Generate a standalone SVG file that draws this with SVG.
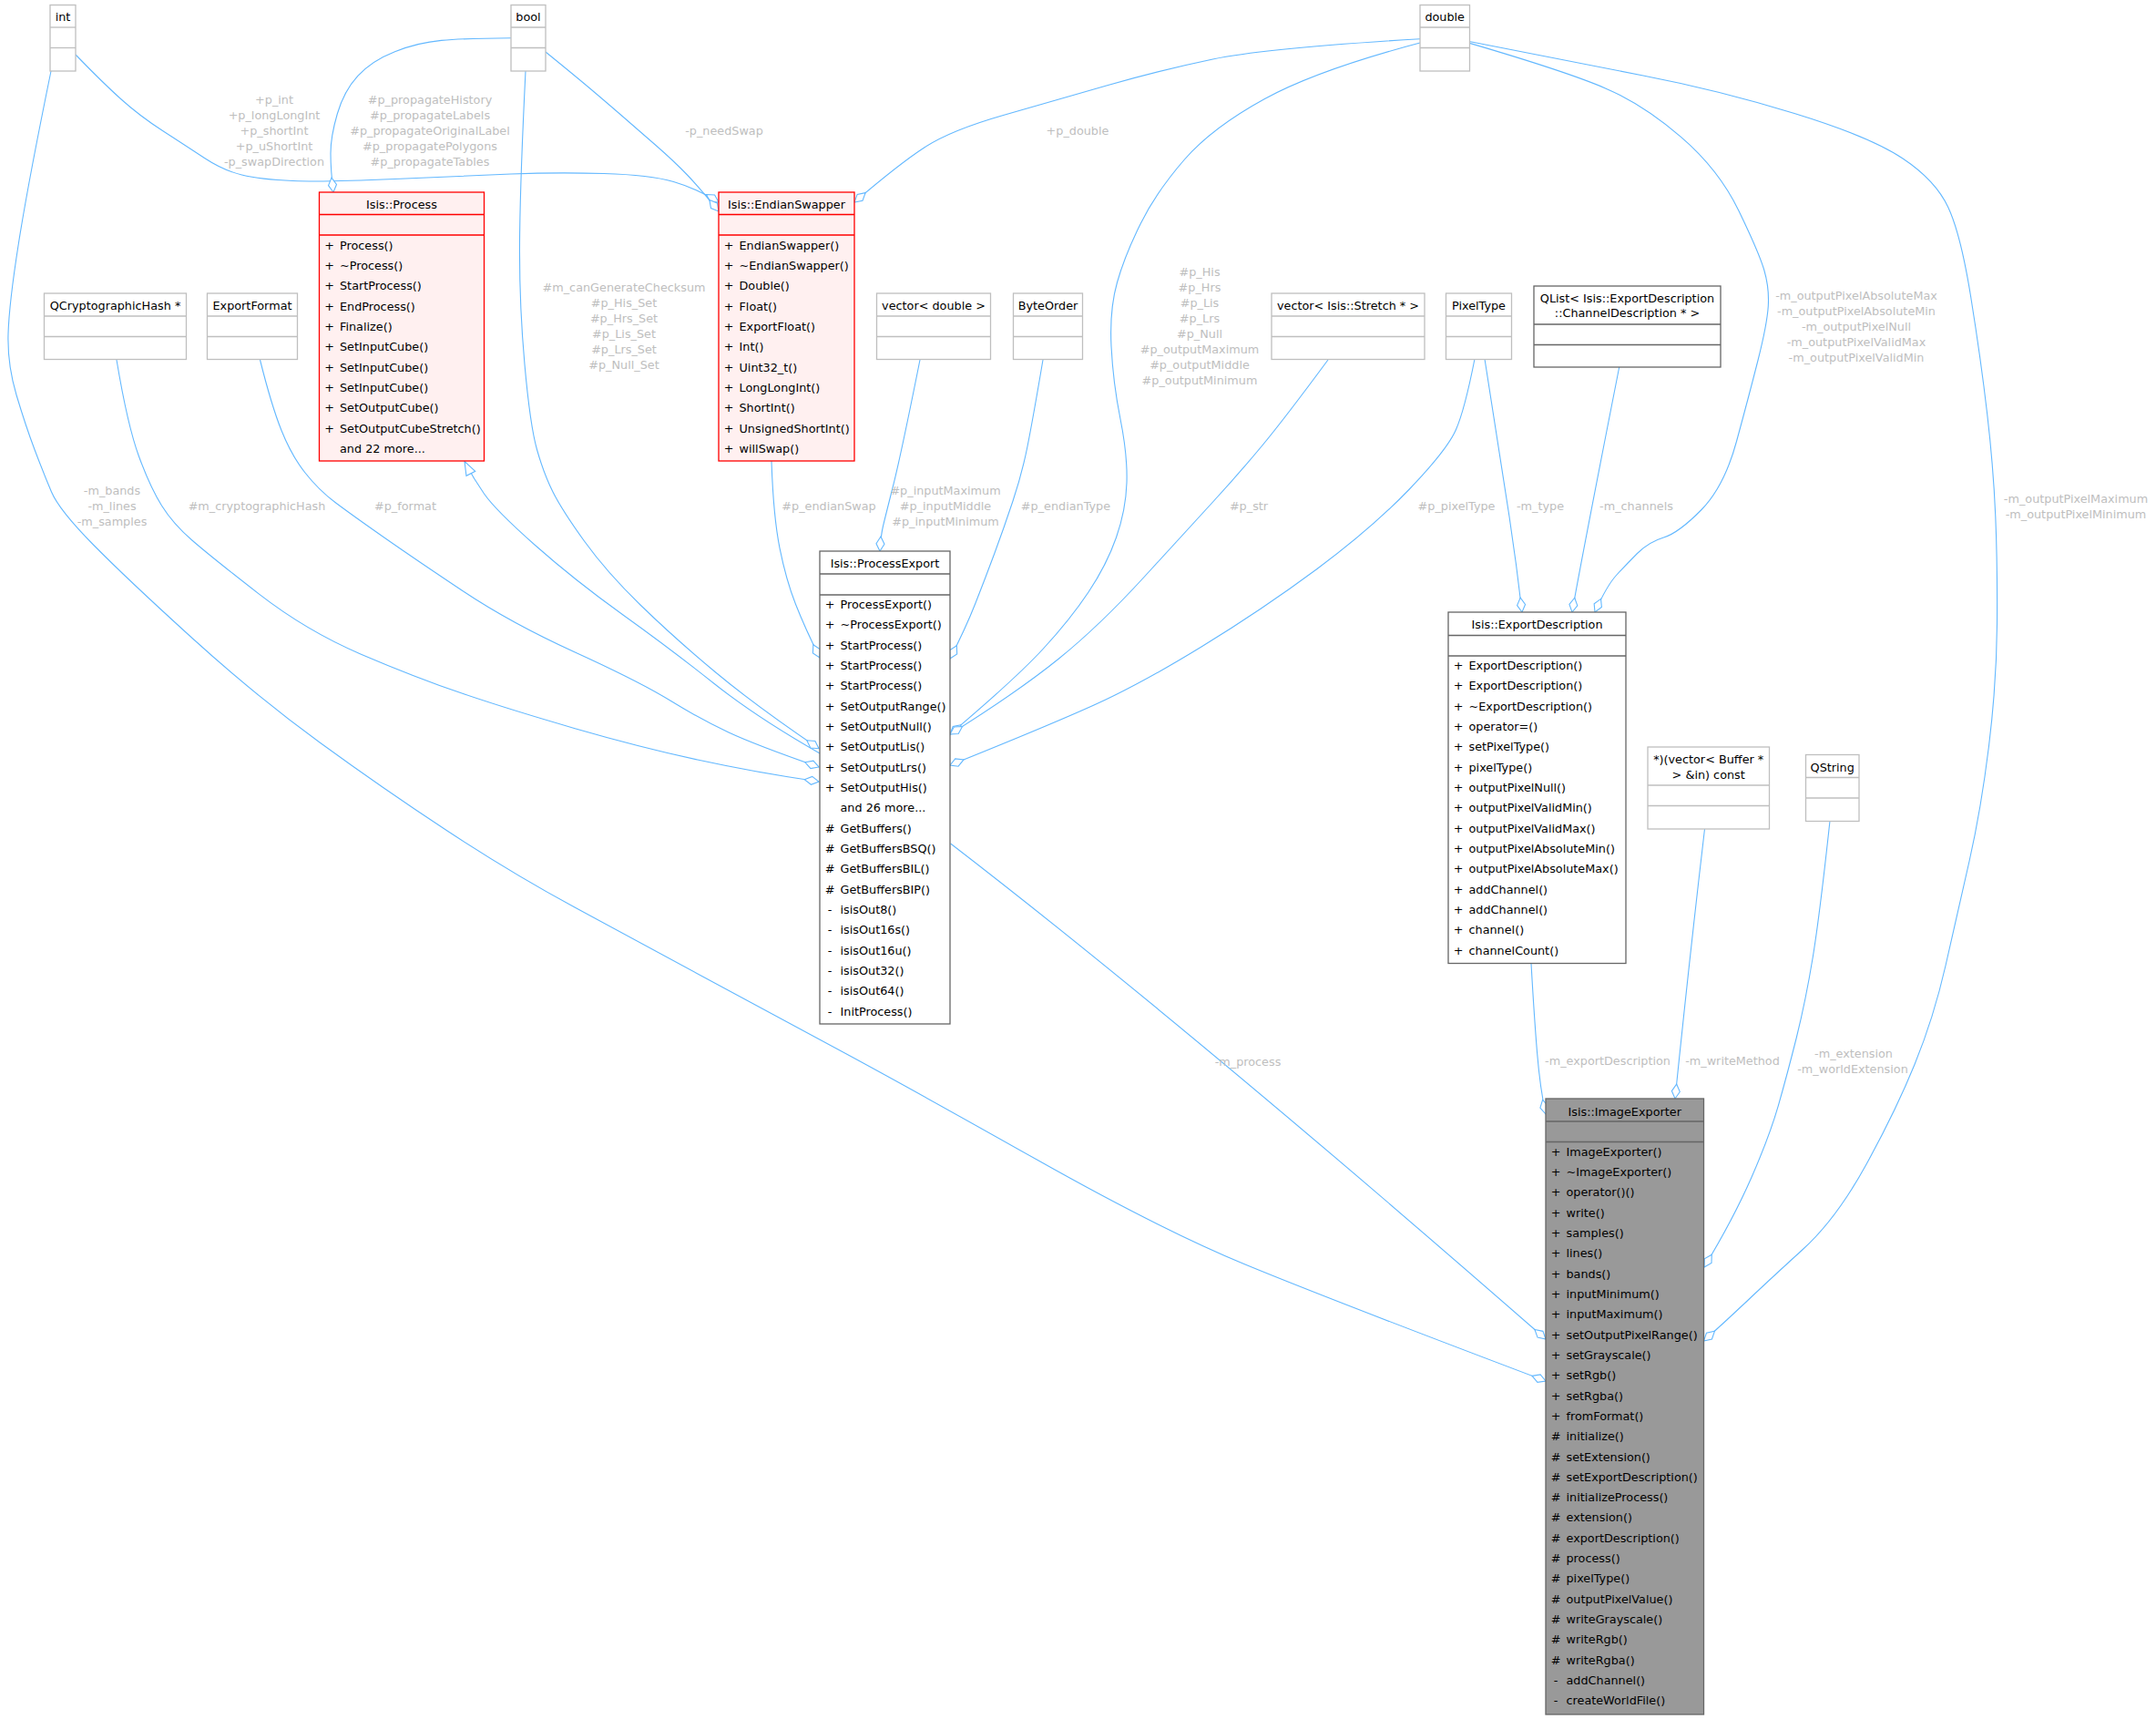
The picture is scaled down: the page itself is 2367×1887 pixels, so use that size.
<svg xmlns="http://www.w3.org/2000/svg" width="2367" height="1887" viewBox="0 0 2367 1887">
<style>
text { font-family: "DejaVu Sans", sans-serif; font-size: 12.8px; fill: #000; }
.c { text-anchor: middle; }
.s { text-anchor: middle; }
.lbl { fill: #bebebe; text-anchor: middle; }
.e { fill: none; stroke: #63b8ff; stroke-width: 1.1; }
.g { fill: #fff; stroke: #bfbfbf; stroke-width: 1.3; }
.gl { stroke: #bfbfbf; stroke-width: 1.3; }
.d { fill: #fff; stroke: #666; stroke-width: 1.3; }
.dl { stroke: #666; stroke-width: 1.3; }
.r { fill: #fff0f0; stroke: #ff0000; stroke-width: 1.3; }
.rl { stroke: #ff0000; stroke-width: 1.3; }
.i { fill: #999999; stroke: #666; stroke-width: 1.3; }
</style>
<defs>
<marker id="dia" markerUnits="userSpaceOnUse" viewBox="-1 -6 18 12" refX="16" refY="0" markerWidth="18" markerHeight="12" orient="auto">
<path d="M0,0 L8,-4.5 L16,0 L8,4.5 Z" fill="#fff" stroke="#63b8ff" stroke-width="1.1"/>
</marker>
<marker id="tri" markerUnits="userSpaceOnUse" viewBox="-1 -7 17 14" refX="15" refY="0" markerWidth="17" markerHeight="14" orient="auto">
<path d="M0,-5.5 L15,0 L0,5.5 Z" fill="#fff" stroke="#63b8ff" stroke-width="1.1"/>
</marker>
</defs>
<rect width="2367" height="1887" fill="#fff"/>

<g id="connectors">
<path class="e" marker-end="url(#dia)" d="M83,60 Q112,90 132.5,108.5 Q153,127 178.5,143.5 Q204,160 224.5,173.5 Q245,187 265.5,192 Q286,197 321.5,198.5 Q357,200 433.5,196.5 Q510,193 561,191 Q612,189 663,190.5 Q714,192 739.5,199.5 Q765,207 789,222"/>
<text class="lbl" x="301" y="114">+p_int</text>
<text class="lbl" x="301" y="131">+p_longLongInt</text>
<text class="lbl" x="301" y="148">+p_shortInt</text>
<text class="lbl" x="301" y="165">+p_uShortInt</text>
<text class="lbl" x="301" y="182">-p_swapDirection</text>

<path class="e" marker-end="url(#dia)" d="M599,57 Q631,83 647,96.5 Q663,110 681.5,126 Q700,142 720,159.5 Q740,177 754,191.5 Q768,206 789,232"/>
<text class="lbl" x="795" y="148">-p_needSwap</text>

<path class="e" marker-end="url(#dia)" d="M561,41.7 Q510,42 484.5,44.4 Q459,46.7 433.5,56.7 Q408,66.7 392.8,83.4 Q377.6,100 370.3,125 Q363,150 363,168.4 Q363,186.7 366,211"/>
<text class="lbl" x="472" y="114">#p_propagateHistory</text>
<text class="lbl" x="472" y="131">#p_propagateLabels</text>
<text class="lbl" x="472" y="148">#p_propagateOriginalLabel</text>
<text class="lbl" x="472" y="165">#p_propagatePolygons</text>
<text class="lbl" x="472" y="182">#p_propagateTables</text>

<path class="e" marker-end="url(#dia)" d="M1559,42.7 Q1389,53 1331.5,65 Q1274,77 1216.5,93.5 Q1159,110 1101.5,126.5 Q1044,143 1015.5,161.5 Q987,180 938,222"/>
<text class="lbl" x="1183" y="148">+p_double</text>

<path class="e" marker-end="url(#dia)" d="M1559,47 Q1446,77 1388.5,108.5 Q1331,140 1300.5,175 Q1270,210 1252.5,245 Q1235,280 1226.5,310 Q1218,340 1220,380 Q1222,420 1230,460 Q1238,500 1237,530 Q1236,560 1225.5,590 Q1215,620 1195,650 Q1175,680 1145,712.5 Q1115,745 1043,806"/>
<text class="lbl" x="1317" y="303">#p_His</text>
<text class="lbl" x="1317" y="320">#p_Hrs</text>
<text class="lbl" x="1317" y="337">#p_Lis</text>
<text class="lbl" x="1317" y="354">#p_Lrs</text>
<text class="lbl" x="1317" y="371">#p_Null</text>
<text class="lbl" x="1317" y="388">#p_outputMaximum</text>
<text class="lbl" x="1317" y="405">#p_outputMiddle</text>
<text class="lbl" x="1317" y="422">#p_outputMinimum</text>

<path class="e" marker-end="url(#dia)" d="M1613.4,47.4 Q1721,79 1762.5,96.9 Q1804,114.7 1845.5,150.4 Q1887,186 1909,231.5 Q1931,277 1936.8,296.5 Q1942.5,316 1941.3,336 Q1940,356 1930,395.5 Q1920,435 1906.5,484.5 Q1893,534 1868,559.5 Q1843,585 1826.5,590 Q1810,595 1797.5,607.5 Q1785,620 1774.5,631.5 Q1764,643 1751,672"/>
<text class="lbl" x="2038" y="328.5">-m_outputPixelAbsoluteMax</text>
<text class="lbl" x="2038" y="345.5">-m_outputPixelAbsoluteMin</text>
<text class="lbl" x="2038" y="362.5">-m_outputPixelNull</text>
<text class="lbl" x="2038" y="379.5">-m_outputPixelValidMax</text>
<text class="lbl" x="2038" y="396.5">-m_outputPixelValidMin</text>

<path class="e" marker-end="url(#dia)" d="M1613,45.5 Q1721,67 1804,83 Q1887,99 1970,124.5 Q2053,150 2089,174 Q2125,198 2138.8,227.5 Q2152.6,257 2163.7,326 Q2174.8,395 2181.7,454.5 Q2188.6,514 2190.8,567 Q2193,620 2192.5,685 Q2192,750 2183.5,819 Q2175,888 2162,945.5 Q2149,1003 2136,1060 Q2123,1117 2102,1168.5 Q2081,1220 2048.5,1279 Q2016,1338 1979.3,1371.5 Q1942.5,1405 1918.8,1427.5 Q1895,1450 1870.5,1472"/>
<text class="lbl" x="2279" y="552">-m_outputPixelMaximum</text>
<text class="lbl" x="2279" y="569">-m_outputPixelMinimum</text>

<path class="e" marker-end="url(#dia)" d="M56,78 Q31,200 20.5,266.5 Q10,333 9,366.5 Q8,400 18,433.5 Q28,467 38,493.5 Q48,520 56.5,540 Q65,560 102.5,598 Q140,636 210.5,700 Q281,764 351,815 Q421,866 491,912 Q561,958 631,996 Q701,1034 771.5,1072 Q842,1110 921,1152.5 Q1000,1195 1137.5,1272.5 Q1275,1350 1367,1388 Q1459,1426 1697,1516"/>
<text class="lbl" x="123" y="543">-m_bands</text>
<text class="lbl" x="123" y="560">-m_lines</text>
<text class="lbl" x="123" y="577">-m_samples</text>

<path class="e" marker-end="url(#dia)" d="M128,395 Q140,467 152.5,501 Q165,535 177.5,555 Q190,575 210.8,593 Q231.5,611 284.1,651.9 Q336.7,692.7 396.4,718.2 Q456,743.7 508.5,761.6 Q561,779.4 631.3,799.7 Q701.5,820 765.8,834 Q830,848 899,858"/>
<text class="lbl" x="282" y="560">#m_cryptographicHash</text>

<path class="e" marker-end="url(#dia)" d="M285.5,395 Q298,445 309,472.5 Q320,500 335,519 Q350,538 368,551.5 Q386,565 421,589.5 Q456,614 508.5,649 Q561,684 631.3,716 Q701.5,748 735.8,769 Q770,790 800,804 Q830,818 899,842"/>
<text class="lbl" x="445" y="560">#p_format</text>

<path class="e" marker-end="url(#tri)" d="M900,827 Q830,787 783.5,750 Q737,713 684,675 Q631,637 587.5,598.5 Q544,560 531.5,542 Q519,524 510,506.5"/>

<path class="e" marker-end="url(#dia)" d="M577,78 Q571,200 570.5,266.5 Q570,333 576,400 Q582,467 589.5,493.5 Q597,520 607,540 Q617,560 641.5,594 Q666,628 703,664 Q740,700 785,737.5 Q830,775 899,821.7"/>
<text class="lbl" x="685" y="320">#m_canGenerateChecksum</text>
<text class="lbl" x="685" y="337">#p_His_Set</text>
<text class="lbl" x="685" y="354">#p_Hrs_Set</text>
<text class="lbl" x="685" y="371">#p_Lis_Set</text>
<text class="lbl" x="685" y="388">#p_Lrs_Set</text>
<text class="lbl" x="685" y="405">#p_Null_Set</text>

<path class="e" marker-end="url(#dia)" d="M847,506 Q849,566.7 856,601.6 Q863,636.5 873.5,663.3 Q884,690 900,722"/>
<text class="lbl" x="910" y="560">#p_endianSwap</text>

<path class="e" marker-end="url(#dia)" d="M1010,395 Q989,500 980.5,533.5 Q972,567 969.5,577.5 Q967,588 966,605"/>
<text class="lbl" x="1038" y="543">#p_inputMaximum</text>
<text class="lbl" x="1038" y="560">#p_inputMiddle</text>
<text class="lbl" x="1038" y="577">#p_inputMinimum</text>

<path class="e" marker-end="url(#dia)" d="M1145,395 Q1134,460 1128,490 Q1122,520 1112,550 Q1102,580 1092,607 Q1082,634 1071,662 Q1060,690 1043,723"/>
<text class="lbl" x="1170" y="560">#p_endianType</text>

<path class="e" marker-end="url(#dia)" d="M1458,395 Q1410,460 1385,490 Q1360,520 1332.5,550 Q1305,580 1256,633.5 Q1207,687 1162.5,723 Q1118,759 1043,806"/>
<text class="lbl" x="1371" y="560">#p_str</text>

<path class="e" marker-end="url(#dia)" d="M1619,394 Q1608,450 1598.3,472 Q1588.5,494 1547.3,537 Q1506,580 1446,624.5 Q1386,669 1319,710 Q1252,751 1201,774 Q1150,797 1043,840"/>
<text class="lbl" x="1599" y="560">#p_pixelType</text>

<path class="e" marker-end="url(#dia)" d="M1630,394 Q1649,514 1657,567 Q1665,620 1671,672"/>
<text class="lbl" x="1691" y="560">-m_type</text>

<path class="e" marker-end="url(#dia)" d="M1777.7,403 Q1735,620 1726,672"/>
<text class="lbl" x="1796.5" y="560">-m_channels</text>

<path class="e" marker-end="url(#dia)" d="M1681,1057.5 Q1684.4,1117.5 1687.6,1155.8 Q1690.7,1194 1697,1223"/>
<text class="lbl" x="1765" y="1169">-m_exportDescription</text>

<path class="e" marker-end="url(#dia)" d="M1871.5,910 Q1855,1050 1839,1206"/>
<text class="lbl" x="1902" y="1169">-m_writeMethod</text>

<path class="e" marker-end="url(#dia)" d="M2009,901 Q1998,1003 1990.3,1050.5 Q1982.5,1098 1972.3,1139 Q1962,1180 1952.3,1213.8 Q1942.5,1247.6 1922.8,1292.8 Q1903,1338 1871,1391"/>
<text class="lbl" x="2035" y="1161">-m_extension</text>
<text class="lbl" x="2034" y="1178">-m_worldExtension</text>

<path class="e" marker-end="url(#dia)" d="M1043.6,926 Q1304.7,1127 1697,1470"/>
<text class="lbl" x="1370" y="1170">-m_process</text>
</g>

<g id="node-int">
<rect class="g" x="55" y="5.5" width="28" height="72.5"/>
<line class="gl" x1="55" y1="30" x2="83" y2="30"/>
<line class="gl" x1="55" y1="52.5" x2="83" y2="52.5"/>
<text class="c" x="69" y="23">int</text>
</g>

<g id="node-bool">
<rect class="g" x="561" y="5.5" width="38" height="72.5"/>
<line class="gl" x1="561" y1="30" x2="599" y2="30"/>
<line class="gl" x1="561" y1="52.5" x2="599" y2="52.5"/>
<text class="c" x="580" y="23">bool</text>
</g>

<g id="node-double">
<rect class="g" x="1559" y="5.5" width="54.5" height="72.5"/>
<line class="gl" x1="1559" y1="30" x2="1613.5" y2="30"/>
<line class="gl" x1="1559" y1="52.5" x2="1613.5" y2="52.5"/>
<text class="c" x="1586.2" y="23">double</text>
</g>

<g id="node-qcryptographichash">
<rect class="g" x="48.5" y="322" width="156" height="72.5"/>
<line class="gl" x1="48.5" y1="347" x2="204.5" y2="347"/>
<line class="gl" x1="48.5" y1="369.5" x2="204.5" y2="369.5"/>
<text class="c" x="126.5" y="339.5">QCryptographicHash *</text>
</g>

<g id="node-exportformat">
<rect class="g" x="227.5" y="322" width="99" height="72.5"/>
<line class="gl" x1="227.5" y1="347" x2="326.5" y2="347"/>
<line class="gl" x1="227.5" y1="369.5" x2="326.5" y2="369.5"/>
<text class="c" x="277" y="339.5">ExportFormat</text>
</g>

<g id="node-vector-double">
<rect class="g" x="962.5" y="322" width="125" height="72.5"/>
<line class="gl" x1="962.5" y1="347" x2="1087.5" y2="347"/>
<line class="gl" x1="962.5" y1="369.5" x2="1087.5" y2="369.5"/>
<text class="c" x="1025" y="339.5">vector&lt; double &gt;</text>
</g>

<g id="node-byteorder">
<rect class="g" x="1112.5" y="322" width="76" height="72.5"/>
<line class="gl" x1="1112.5" y1="347" x2="1188.5" y2="347"/>
<line class="gl" x1="1112.5" y1="369.5" x2="1188.5" y2="369.5"/>
<text class="c" x="1150.5" y="339.5">ByteOrder</text>
</g>

<g id="node-vector-stretch">
<rect class="g" x="1396" y="322" width="168" height="72.5"/>
<line class="gl" x1="1396" y1="347" x2="1564" y2="347"/>
<line class="gl" x1="1396" y1="369.5" x2="1564" y2="369.5"/>
<text class="c" x="1480" y="339.5">vector&lt; Isis::Stretch * &gt;</text>
</g>

<g id="node-pixeltype">
<rect class="g" x="1587.5" y="322" width="72" height="72.5"/>
<line class="gl" x1="1587.5" y1="347" x2="1659.5" y2="347"/>
<line class="gl" x1="1587.5" y1="369.5" x2="1659.5" y2="369.5"/>
<text class="c" x="1623.5" y="339.5">PixelType</text>
</g>

<g id="node-qlist">
<rect class="d" x="1684" y="314" width="205" height="89"/>
<line class="dl" x1="1684" y1="356" x2="1889" y2="356"/>
<line class="dl" x1="1684" y1="378.5" x2="1889" y2="378.5"/>
<text class="c" x="1786.5" y="331.5">QList&lt; Isis::ExportDescription</text>
<text class="c" x="1786.5" y="348">::ChannelDescription * &gt;</text>
</g>

<g id="node-writemethod">
<rect class="g" x="1809" y="820" width="133.5" height="90"/>
<line class="gl" x1="1809" y1="862" x2="1942.5" y2="862"/>
<line class="gl" x1="1809" y1="884.5" x2="1942.5" y2="884.5"/>
<text class="c" x="1875.7" y="838">*)(vector&lt; Buffer *</text>
<text class="c" x="1875.7" y="855">&gt; &amp;in) const</text>
</g>

<g id="node-qstring">
<rect class="g" x="1982.5" y="828.5" width="58.5" height="73"/>
<line class="gl" x1="1982.5" y1="853.5" x2="2041" y2="853.5"/>
<line class="gl" x1="1982.5" y1="876" x2="2041" y2="876"/>
<text class="c" x="2011.7" y="846.5">QString</text>
</g>

<g id="node-process">
<rect class="r" x="350.5" y="211" width="181" height="295"/>
<line class="rl" x1="350.5" y1="235.5" x2="531.5" y2="235.5"/>
<line class="rl" x1="350.5" y1="258" x2="531.5" y2="258"/>
<text class="c" x="441" y="228.5">Isis::Process</text>
<text class="s" x="361.5" y="273.5">+</text><text x="373" y="273.5">Process()</text>
<text class="s" x="361.5" y="295.8">+</text><text x="373" y="295.8">~Process()</text>
<text class="s" x="361.5" y="318.2">+</text><text x="373" y="318.2">StartProcess()</text>
<text class="s" x="361.5" y="340.5">+</text><text x="373" y="340.5">EndProcess()</text>
<text class="s" x="361.5" y="362.8">+</text><text x="373" y="362.8">Finalize()</text>
<text class="s" x="361.5" y="385.2">+</text><text x="373" y="385.2">SetInputCube()</text>
<text class="s" x="361.5" y="407.5">+</text><text x="373" y="407.5">SetInputCube()</text>
<text class="s" x="361.5" y="429.8">+</text><text x="373" y="429.8">SetInputCube()</text>
<text class="s" x="361.5" y="452.1">+</text><text x="373" y="452.1">SetOutputCube()</text>
<text class="s" x="361.5" y="474.5">+</text><text x="373" y="474.5">SetOutputCubeStretch()</text>
<text x="373" y="496.8">and 22 more...</text>
</g>

<g id="node-endianswapper">
<rect class="r" x="789" y="211" width="149" height="295"/>
<line class="rl" x1="789" y1="235.5" x2="938" y2="235.5"/>
<line class="rl" x1="789" y1="258" x2="938" y2="258"/>
<text class="c" x="863.5" y="228.5">Isis::EndianSwapper</text>
<text class="s" x="800" y="273.5">+</text><text x="811.5" y="273.5">EndianSwapper()</text>
<text class="s" x="800" y="295.8">+</text><text x="811.5" y="295.8">~EndianSwapper()</text>
<text class="s" x="800" y="318.2">+</text><text x="811.5" y="318.2">Double()</text>
<text class="s" x="800" y="340.5">+</text><text x="811.5" y="340.5">Float()</text>
<text class="s" x="800" y="362.8">+</text><text x="811.5" y="362.8">ExportFloat()</text>
<text class="s" x="800" y="385.2">+</text><text x="811.5" y="385.2">Int()</text>
<text class="s" x="800" y="407.5">+</text><text x="811.5" y="407.5">Uint32_t()</text>
<text class="s" x="800" y="429.8">+</text><text x="811.5" y="429.8">LongLongInt()</text>
<text class="s" x="800" y="452.1">+</text><text x="811.5" y="452.1">ShortInt()</text>
<text class="s" x="800" y="474.5">+</text><text x="811.5" y="474.5">UnsignedShortInt()</text>
<text class="s" x="800" y="496.8">+</text><text x="811.5" y="496.8">willSwap()</text>
</g>

<g id="node-processexport">
<rect class="d" x="900" y="605" width="143" height="519"/>
<line class="dl" x1="900" y1="630" x2="1043" y2="630"/>
<line class="dl" x1="900" y1="653" x2="1043" y2="653"/>
<text class="c" x="971.5" y="623">Isis::ProcessExport</text>
<text class="s" x="911" y="668">+</text><text x="922.5" y="668">ProcessExport()</text>
<text class="s" x="911" y="690.3">+</text><text x="922.5" y="690.3">~ProcessExport()</text>
<text class="s" x="911" y="712.7">+</text><text x="922.5" y="712.7">StartProcess()</text>
<text class="s" x="911" y="735">+</text><text x="922.5" y="735">StartProcess()</text>
<text class="s" x="911" y="757.3">+</text><text x="922.5" y="757.3">StartProcess()</text>
<text class="s" x="911" y="779.7">+</text><text x="922.5" y="779.7">SetOutputRange()</text>
<text class="s" x="911" y="802">+</text><text x="922.5" y="802">SetOutputNull()</text>
<text class="s" x="911" y="824.3">+</text><text x="922.5" y="824.3">SetOutputLis()</text>
<text class="s" x="911" y="846.6">+</text><text x="922.5" y="846.6">SetOutputLrs()</text>
<text class="s" x="911" y="869">+</text><text x="922.5" y="869">SetOutputHis()</text>
<text x="922.5" y="891.3">and 26 more...</text>
<text class="s" x="911" y="913.6">#</text><text x="922.5" y="913.6">GetBuffers()</text>
<text class="s" x="911" y="936">#</text><text x="922.5" y="936">GetBuffersBSQ()</text>
<text class="s" x="911" y="958.3">#</text><text x="922.5" y="958.3">GetBuffersBIL()</text>
<text class="s" x="911" y="980.6">#</text><text x="922.5" y="980.6">GetBuffersBIP()</text>
<text class="s" x="911" y="1003">-</text><text x="922.5" y="1003">isisOut8()</text>
<text class="s" x="911" y="1025.3">-</text><text x="922.5" y="1025.3">isisOut16s()</text>
<text class="s" x="911" y="1047.6">-</text><text x="922.5" y="1047.6">isisOut16u()</text>
<text class="s" x="911" y="1069.9">-</text><text x="922.5" y="1069.9">isisOut32()</text>
<text class="s" x="911" y="1092.3">-</text><text x="922.5" y="1092.3">isisOut64()</text>
<text class="s" x="911" y="1114.6">-</text><text x="922.5" y="1114.6">InitProcess()</text>
</g>

<g id="node-exportdescription">
<rect class="d" x="1590" y="672" width="195" height="385.5"/>
<line class="dl" x1="1590" y1="697.5" x2="1785" y2="697.5"/>
<line class="dl" x1="1590" y1="720" x2="1785" y2="720"/>
<text class="c" x="1687.5" y="690">Isis::ExportDescription</text>
<text class="s" x="1601" y="735">+</text><text x="1612.5" y="735">ExportDescription()</text>
<text class="s" x="1601" y="757.3">+</text><text x="1612.5" y="757.3">ExportDescription()</text>
<text class="s" x="1601" y="779.7">+</text><text x="1612.5" y="779.7">~ExportDescription()</text>
<text class="s" x="1601" y="802">+</text><text x="1612.5" y="802">operator=()</text>
<text class="s" x="1601" y="824.3">+</text><text x="1612.5" y="824.3">setPixelType()</text>
<text class="s" x="1601" y="846.7">+</text><text x="1612.5" y="846.7">pixelType()</text>
<text class="s" x="1601" y="869">+</text><text x="1612.5" y="869">outputPixelNull()</text>
<text class="s" x="1601" y="891.3">+</text><text x="1612.5" y="891.3">outputPixelValidMin()</text>
<text class="s" x="1601" y="913.6">+</text><text x="1612.5" y="913.6">outputPixelValidMax()</text>
<text class="s" x="1601" y="936">+</text><text x="1612.5" y="936">outputPixelAbsoluteMin()</text>
<text class="s" x="1601" y="958.3">+</text><text x="1612.5" y="958.3">outputPixelAbsoluteMax()</text>
<text class="s" x="1601" y="980.6">+</text><text x="1612.5" y="980.6">addChannel()</text>
<text class="s" x="1601" y="1003">+</text><text x="1612.5" y="1003">addChannel()</text>
<text class="s" x="1601" y="1025.3">+</text><text x="1612.5" y="1025.3">channel()</text>
<text class="s" x="1601" y="1047.6">+</text><text x="1612.5" y="1047.6">channelCount()</text>
</g>

<g id="node-imageexporter">
<rect class="i" x="1697" y="1206" width="173.5" height="676"/>
<line class="dl" x1="1697" y1="1231" x2="1870.5" y2="1231"/>
<line class="dl" x1="1697" y1="1253.5" x2="1870.5" y2="1253.5"/>
<text class="c" x="1783.7" y="1224.5">Isis::ImageExporter</text>
<text class="s" x="1708" y="1268.5">+</text><text x="1719.5" y="1268.5">ImageExporter()</text>
<text class="s" x="1708" y="1290.8">+</text><text x="1719.5" y="1290.8">~ImageExporter()</text>
<text class="s" x="1708" y="1313.2">+</text><text x="1719.5" y="1313.2">operator()()</text>
<text class="s" x="1708" y="1335.5">+</text><text x="1719.5" y="1335.5">write()</text>
<text class="s" x="1708" y="1357.8">+</text><text x="1719.5" y="1357.8">samples()</text>
<text class="s" x="1708" y="1380.2">+</text><text x="1719.5" y="1380.2">lines()</text>
<text class="s" x="1708" y="1402.5">+</text><text x="1719.5" y="1402.5">bands()</text>
<text class="s" x="1708" y="1424.8">+</text><text x="1719.5" y="1424.8">inputMinimum()</text>
<text class="s" x="1708" y="1447.1">+</text><text x="1719.5" y="1447.1">inputMaximum()</text>
<text class="s" x="1708" y="1469.5">+</text><text x="1719.5" y="1469.5">setOutputPixelRange()</text>
<text class="s" x="1708" y="1491.8">+</text><text x="1719.5" y="1491.8">setGrayscale()</text>
<text class="s" x="1708" y="1514.1">+</text><text x="1719.5" y="1514.1">setRgb()</text>
<text class="s" x="1708" y="1536.5">+</text><text x="1719.5" y="1536.5">setRgba()</text>
<text class="s" x="1708" y="1558.8">+</text><text x="1719.5" y="1558.8">fromFormat()</text>
<text class="s" x="1708" y="1581.1">#</text><text x="1719.5" y="1581.1">initialize()</text>
<text class="s" x="1708" y="1603.5">#</text><text x="1719.5" y="1603.5">setExtension()</text>
<text class="s" x="1708" y="1625.8">#</text><text x="1719.5" y="1625.8">setExportDescription()</text>
<text class="s" x="1708" y="1648.1">#</text><text x="1719.5" y="1648.1">initializeProcess()</text>
<text class="s" x="1708" y="1670.4">#</text><text x="1719.5" y="1670.4">extension()</text>
<text class="s" x="1708" y="1692.8">#</text><text x="1719.5" y="1692.8">exportDescription()</text>
<text class="s" x="1708" y="1715.1">#</text><text x="1719.5" y="1715.1">process()</text>
<text class="s" x="1708" y="1737.4">#</text><text x="1719.5" y="1737.4">pixelType()</text>
<text class="s" x="1708" y="1759.8">#</text><text x="1719.5" y="1759.8">outputPixelValue()</text>
<text class="s" x="1708" y="1782.1">#</text><text x="1719.5" y="1782.1">writeGrayscale()</text>
<text class="s" x="1708" y="1804.4">#</text><text x="1719.5" y="1804.4">writeRgb()</text>
<text class="s" x="1708" y="1826.8">#</text><text x="1719.5" y="1826.8">writeRgba()</text>
<text class="s" x="1708" y="1849.1">-</text><text x="1719.5" y="1849.1">addChannel()</text>
<text class="s" x="1708" y="1871.4">-</text><text x="1719.5" y="1871.4">createWorldFile()</text>
</g>
</svg>
